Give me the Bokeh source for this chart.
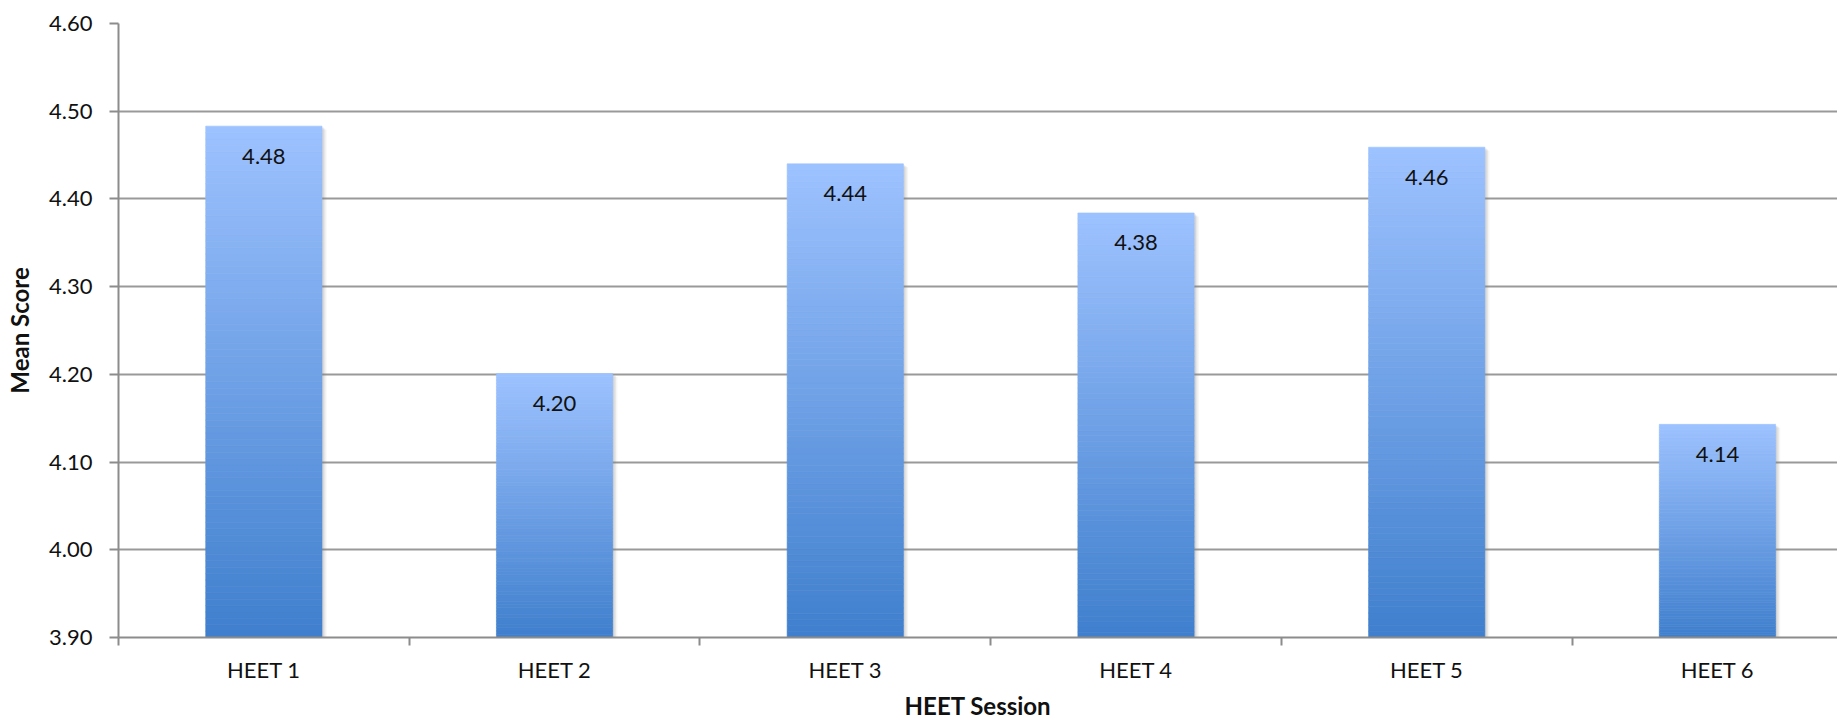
from bokeh.plotting import figure
from bokeh.models import Range1d, FixedTicker, NumeralTickFormatter
from bokeh.core.properties import value
from bokeh.embed import file_html
from bokeh.resources import INLINE

# Mean score per HEET session
sessions = ["HEET 1", "HEET 2", "HEET 3", "HEET 4", "HEET 5", "HEET 6"]
mean_scores = [4.483, 4.201, 4.440, 4.384, 4.459, 4.143]
y_ticks = [3.90, 4.00, 4.10, 4.20, 4.30, 4.40, 4.50, 4.60]

FONT = "Lato"
BASE = 3.90
BAR_W = 0.40
LIGHT = (157, 194, 255)
DARK = (63, 127, 205)
N_STEPS = 80

centers = [i + 0.5 for i in range(len(sessions))]

p = figure(width=1837, height=722, output_backend="svg", toolbar_location=None,
           x_range=Range1d(0, 5.913), y_range=Range1d(BASE, 4.60),
           min_border_left=118, min_border_right=0, min_border_top=23,
           min_border_bottom=85)
p.outline_line_color = None
p.background_fill_color = "white"
p.border_fill_color = "white"

# soft drop shadow behind each bar
for off, alpha in [(0.016, 0.08), (0.011, 0.12), (0.006, 0.16)]:
    p.quad(left=[c - BAR_W / 2 + off for c in centers],
           right=[c + BAR_W / 2 + off for c in centers],
           bottom=[BASE] * len(centers),
           top=[v - off * 0.25 for v in mean_scores],
           fill_color="#7f7f7f", fill_alpha=alpha, line_color=None)

# vertical gradient fill: light at the top of each bar, dark at its base
lefts, rights, bottoms, tops, colors = [], [], [], [], []
for c, v in zip(centers, mean_scores):
    h = v - BASE
    for k in range(N_STEPS):
        t0 = k / N_STEPS
        t1 = (k + 1) / N_STEPS
        tm = (k + 0.5) / N_STEPS
        rgb = tuple(int(round(DARK[j] + (LIGHT[j] - DARK[j]) * tm)) for j in range(3))
        lefts.append(c - BAR_W / 2)
        rights.append(c + BAR_W / 2)
        bottoms.append(BASE + h * t0)
        tops.append(BASE + h * t1)
        colors.append("#%02x%02x%02x" % rgb)
p.quad(left=lefts, right=rights, bottom=bottoms, top=tops,
       fill_color=colors, line_color=colors, line_width=0.6)

# value labels inside the bars
p.text(x=centers, y=mean_scores, text=[f"{v:.2f}" for v in mean_scores],
       text_align="center", text_baseline="middle", y_offset=30,
       text_font=value(FONT), text_font_size="22px", text_color="#111111")

# y axis
p.yaxis.ticker = FixedTicker(ticks=y_ticks)
p.yaxis.formatter = NumeralTickFormatter(format="0.00")
p.yaxis.major_label_text_font = FONT
p.yaxis.major_label_text_font_size = "22px"
p.yaxis.major_label_text_color = "#111111"
p.yaxis.major_tick_out = 9
p.yaxis.major_tick_in = 0
p.yaxis.minor_tick_out = 0
p.yaxis.minor_tick_in = 0
p.yaxis.major_label_standoff = 17
p.yaxis.axis_line_color = "#8c8c8c"
p.yaxis.axis_line_width = 2
p.yaxis.major_tick_line_color = "#8c8c8c"
p.yaxis.major_tick_line_width = 2
p.yaxis.axis_label = "Mean Score"
p.yaxis.axis_label_text_font = FONT
p.yaxis.axis_label_text_font_style = "bold"
p.yaxis.axis_label_text_font_size = "24px"
p.yaxis.axis_label_text_color = "#111111"
p.yaxis.axis_label_standoff = 12

# x axis: labels at session centres, ticks at session boundaries
p.xaxis.ticker = FixedTicker(ticks=centers, minor_ticks=list(range(len(sessions) + 1)))
p.xaxis.major_label_overrides = {c: s for c, s in zip(centers, sessions)}
p.xaxis.major_label_text_font = FONT
p.xaxis.major_label_text_font_size = "22px"
p.xaxis.major_label_text_color = "#111111"
p.xaxis.major_tick_out = 0
p.xaxis.major_tick_in = 0
p.xaxis.minor_tick_out = 8
p.xaxis.minor_tick_in = 0
p.xaxis.minor_tick_line_color = "#8c8c8c"
p.xaxis.minor_tick_line_width = 2
p.xaxis.major_label_standoff = 10
p.xaxis.axis_line_color = "#8c8c8c"
p.xaxis.axis_line_width = 2
p.xaxis.axis_label = "HEET Session"
p.xaxis.axis_label_text_font = FONT
p.xaxis.axis_label_text_font_style = "bold"
p.xaxis.axis_label_text_font_size = "24px"
p.xaxis.axis_label_text_color = "#111111"
p.xaxis.axis_label_standoff = 5

p.xgrid.grid_line_color = None
p.ygrid.ticker = FixedTicker(ticks=y_ticks)
p.ygrid.grid_line_color = "#999999"
p.ygrid.grid_line_width = 2

open("out.html", "w").write(file_html(p, INLINE))
